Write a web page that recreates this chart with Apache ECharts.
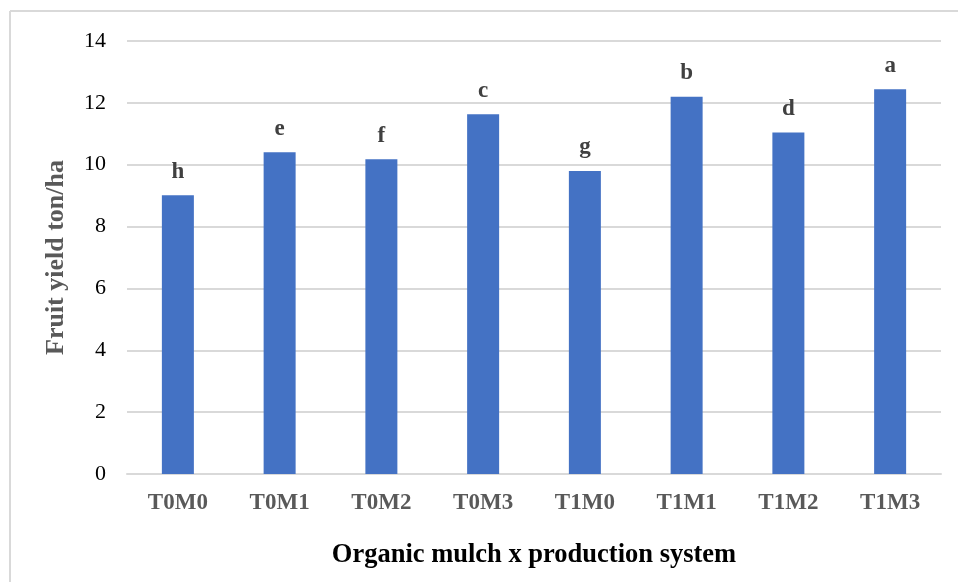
<!DOCTYPE html>
<html>
<head>
<meta charset="utf-8">
<script src="https://cdn.jsdelivr.net/npm/echarts@6/dist/echarts.min.js"></script>
<style>
html,body{margin:0;padding:0;background:#fff;}
#chart{width:958px;height:582px;}
</style>
</head>
<body>
<div id="chart"></div>
<script>
const categories = ['T0M0','T0M1','T0M2','T0M3','T1M0','T1M1','T1M2','T1M3'];
const yieldValues = [9.01, 10.40, 10.18, 11.63, 9.80, 12.20, 11.04, 12.44];
const letters = ['h','e','f','c','g','b','d','a'];
const yTicks = [0, 2, 4, 6, 8, 10, 12, 14];

const FONT = '"Liberation Serif", "Times New Roman", serif';
const chart = echarts.init(document.getElementById('chart'));
chart.setOption({
  animation: false,
  backgroundColor: '#ffffff',
  grid: { left: 127, right: 17, top: 41, bottom: 108, containLabel: false },
  graphic: [
    { type: 'line', shape: { x1: 10, y1: 11, x2: 958, y2: 11 }, style: { stroke: '#d9d9d9', lineWidth: 2 } },
    { type: 'line', shape: { x1: 10, y1: 11, x2: 10, y2: 582 }, style: { stroke: '#d9d9d9', lineWidth: 2 } }
  ],
  xAxis: {
    type: 'category',
    data: categories,
    name: 'Organic mulch x production system',
    nameLocation: 'middle',
    nameGap: 68,
    nameTextStyle: { fontFamily: FONT, fontWeight: 'bold', fontSize: 26.5, color: '#000000' },
    axisLine: { show: true, lineStyle: { color: '#d9d9d9', width: 2 } },
    axisTick: { show: false },
    axisLabel: { fontFamily: FONT, fontWeight: 'bold', fontSize: 23, color: '#595959', margin: 18 }
  },
  yAxis: {
    type: 'value',
    min: yTicks[0],
    max: yTicks[yTicks.length - 1],
    interval: 2,
    name: 'Fruit yield ton/ha',
    nameLocation: 'middle',
    nameGap: 58,
    nameTextStyle: { fontFamily: FONT, fontWeight: 'bold', fontSize: 26, color: '#595959' },
    axisLine: { show: false },
    axisTick: { show: false },
    axisLabel: { fontFamily: FONT, fontSize: 22, color: '#000000', margin: 21 },
    splitLine: { lineStyle: { color: '#d9d9d9', width: 2 } }
  },
  series: [{
    type: 'bar',
    data: yieldValues,
    barWidth: 32,
    itemStyle: { color: '#4472c4' },
    label: {
      show: true,
      position: 'top',
      distance: 12,
      fontFamily: FONT,
      fontWeight: 'bold',
      fontSize: 23,
      color: '#404040',
      formatter: p => letters[p.dataIndex]
    }
  }]
});
</script>
</body>
</html>
